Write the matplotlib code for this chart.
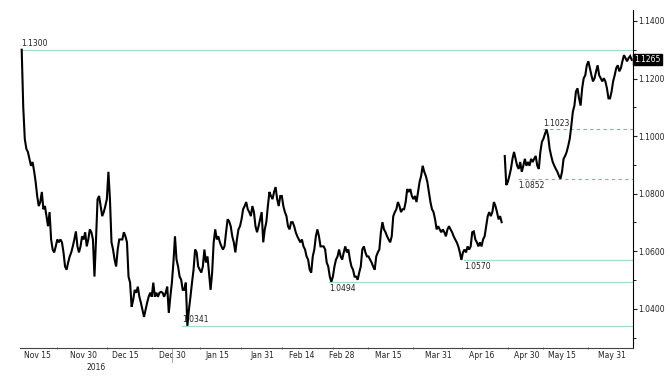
import numpy as np
import matplotlib
matplotlib.use("Agg")
import matplotlib.pyplot as plt
from matplotlib.ticker import MultipleLocator, FormatStrFormatter

# hourly closes (index axis, trading time only)
nov_dec = [1.1300, 1.1100, 1.0990, 1.0956, 1.0945, 1.0921, 1.0897, 1.0910, 1.0879,
           1.0841, 1.0792, 1.0757, 1.0771, 1.0806, 1.0746, 1.0757, 1.0722, 1.0687,
           1.0736, 1.0641, 1.0606, 1.0596, 1.0617, 1.0641, 1.0631, 1.0641, 1.0631,
           1.0596, 1.0547, 1.0536, 1.0561, 1.0582, 1.0596, 1.0617, 1.0641, 1.0669,
           1.0617, 1.0596, 1.0617, 1.0652, 1.0641, 1.0666, 1.0617, 1.0641, 1.0676,
           1.0666, 1.0641, 1.0512, 1.0641, 1.0781, 1.0792, 1.0757, 1.0722, 1.0736,
           1.0757, 1.0781, 1.0876, 1.0781, 1.0631, 1.0606, 1.0571, 1.0547, 1.0606,
           1.0641, 1.0641, 1.0641, 1.0666, 1.0652, 1.0631, 1.0512, 1.0491, 1.0407,
           1.0431, 1.0466, 1.0456, 1.0477, 1.0442, 1.0421, 1.0397, 1.0372, 1.0397,
           1.0421, 1.0442, 1.0456, 1.0442, 1.0491, 1.0442, 1.0456, 1.0442, 1.0456,
           1.0459, 1.0456, 1.0442, 1.0456, 1.0477, 1.0386, 1.0442, 1.0491, 1.0561,
           1.0652, 1.0571, 1.0547, 1.0512, 1.0501, 1.0466, 1.0466, 1.0491, 1.0341]
jan_feb = [1.0397, 1.0442, 1.0491, 1.0536, 1.0606, 1.0596, 1.0547, 1.0536, 1.0526,
           1.0547, 1.0606, 1.0561, 1.0582, 1.0526, 1.0466, 1.0526, 1.0631, 1.0676,
           1.0641, 1.0652, 1.0631, 1.0617, 1.0606, 1.0617, 1.0666, 1.0711, 1.0704,
           1.0687, 1.0652, 1.0631, 1.0596, 1.0641, 1.0676, 1.0687, 1.0711, 1.0746,
           1.0757, 1.0771, 1.0746, 1.0736, 1.0722, 1.0757, 1.0736, 1.0687, 1.0666,
           1.0687, 1.0711, 1.0736, 1.0631, 1.0676, 1.0701, 1.0757, 1.0806, 1.0792,
           1.0781, 1.0806, 1.0823, 1.0781, 1.0757, 1.0792, 1.0792, 1.0757, 1.0736,
           1.0722, 1.0687, 1.0676, 1.0701, 1.0701, 1.0687, 1.0666, 1.0652, 1.0641,
           1.0631, 1.0641, 1.0617, 1.0606, 1.0582, 1.0571, 1.0536, 1.0526, 1.0582,
           1.0606, 1.0652, 1.0676, 1.0652, 1.0617, 1.0617, 1.0617, 1.0606, 1.0561,
           1.0547, 1.0512, 1.0494, 1.0512]
mar_apr = [1.0547, 1.0571, 1.0582, 1.0606, 1.0582, 1.0571, 1.0596, 1.0617, 1.0596,
           1.0606, 1.0571, 1.0547, 1.0536, 1.0512, 1.0512, 1.0501, 1.0526, 1.0547,
           1.0606, 1.0617, 1.0596, 1.0582, 1.0582, 1.0571, 1.0561, 1.0547, 1.0536,
           1.0582, 1.0596, 1.0606, 1.0666, 1.0701, 1.0676, 1.0666, 1.0652, 1.0641,
           1.0631, 1.0652, 1.0722, 1.0736, 1.0746, 1.0771, 1.0757, 1.0736, 1.0746,
           1.0746, 1.0771, 1.0816, 1.0806, 1.0816, 1.0792, 1.0781, 1.0792, 1.0771,
           1.0806, 1.0841, 1.0862, 1.0897, 1.0876, 1.0862, 1.0841, 1.0806, 1.0771,
           1.0746, 1.0736, 1.0711, 1.0676, 1.0687, 1.0676, 1.0666, 1.0676, 1.0666,
           1.0652, 1.0676, 1.0687, 1.0676, 1.0666, 1.0652, 1.0641, 1.0631, 1.0617,
           1.0596, 1.0570, 1.0596, 1.0606, 1.0596, 1.0617, 1.0606, 1.0617, 1.0666,
           1.0669, 1.0641, 1.0631, 1.0617, 1.0631, 1.0617, 1.0641, 1.0652, 1.0687,
           1.0722, 1.0736, 1.0722, 1.0736, 1.0771, 1.0757, 1.0736, 1.0711, 1.0722,
           1.0701]
# weekend gap (French election) before the next block
apr_jun = [1.0931, 1.0830, 1.0841, 1.0862, 1.0886, 1.0921, 1.0945, 1.0921, 1.0897,
           1.0886, 1.0910, 1.0876, 1.0897, 1.0921, 1.0897, 1.0910, 1.0897, 1.0921,
           1.0910, 1.0921, 1.0931, 1.0897, 1.0886, 1.0945, 1.0980, 1.0991, 1.1008,
           1.1023, 1.1001, 1.0956, 1.0931, 1.0910, 1.0897, 1.0886, 1.0876, 1.0862,
           1.0852, 1.0876, 1.0921, 1.0931, 1.0945, 1.0966, 1.0991, 1.1036, 1.1085,
           1.1106, 1.1155, 1.1166, 1.1131, 1.1106, 1.1166, 1.1201, 1.1211, 1.1246,
           1.1260, 1.1236, 1.1211, 1.1190, 1.1201, 1.1225, 1.1246, 1.1211, 1.1201,
           1.1190, 1.1201, 1.1190, 1.1166, 1.1131, 1.1131, 1.1155, 1.1190, 1.1211,
           1.1236, 1.1246, 1.1225, 1.1236, 1.1260, 1.1281, 1.1271, 1.1260, 1.1271,
           1.1278, 1.1265]

prices = np.array(nov_dec + jan_feb + mar_apr + [np.nan] + apr_jun)
last_price = 1.1265

solid_levels = [1.1300, 1.0341, 1.0494, 1.0570]
solid_labels = ["1.1300", "1.0341", "1.0494", "1.0570"]
dashed_levels = [1.1023, 1.0852]
dashed_labels = ["1.1023", "1.0852"]

date_labels = ["Nov 15", "Nov 30", "Dec 15", "Dec 30", "Jan 15", "Jan 31", "Feb 14",
               "Feb 28", "Mar 15", "Mar 31", "Apr 16", "Apr 30", "May 15", "May 31"]
year_label = "2016"

# ---- layout (pixel columns of the reference, axes spans 20..633 px) ----
AX_L, AX_R = 20, 633
first_px, last_px = 21.7, 631.7
label_px = [37, 83, 125, 172, 217, 262, 302, 342, 388, 438, 482, 527, 562, 612]
tick_px = [57, 107, 152, 200, 241, 282, 333, 368, 413, 462, 508, 543, 588]
solid_px = [21.7, 182, 329, 464]
solid_above = [True, True, False, False]
dashed_px = [543, 518]
dashed_above = [True, False]

n = len(prices)
x = np.arange(n)
step = (last_px - first_px) / (n - 1)
xlo = -(first_px - AX_L) / step
xhi = (n - 1) + (AX_R - last_px) / step


def px2x(px):
    return xlo + (px - AX_L) / (AX_R - AX_L) * (xhi - xlo)


def px2f(px):
    return (px - AX_L) / (AX_R - AX_L)


fig = plt.figure(figsize=(6.7, 3.76), dpi=100)
ax = fig.add_axes([AX_L / 670, 28 / 376, (AX_R - AX_L) / 670, (376 - 10 - 28) / 376])

green = "#a3dcc8"
dgreen = "#72b9a2"
txt = "#222222"
fs = 5.5

for lv, lb, p, above in zip(solid_levels, solid_labels, solid_px, solid_above):
    ax.axhline(lv, xmin=px2f(p), xmax=1, color=green, lw=0.9, zorder=1)
    ax.text(px2x(p), lv + (0.0006 if above else -0.0007), lb, fontsize=fs, color=txt,
            ha="left", va="bottom" if above else "top")

for lv, lb, p, above in zip(dashed_levels, dashed_labels, dashed_px, dashed_above):
    ax.axhline(lv, xmin=px2f(p), xmax=1, color=dgreen, lw=0.8, ls=(0, (3, 3)), zorder=1)
    ax.text(px2x(p), lv + (0.0006 if above else -0.0007), lb, fontsize=fs, color=txt,
            ha="left", va="bottom" if above else "top")

ax.plot(x, prices, color="black", lw=1.5, solid_joinstyle="miter", zorder=3)

ax.set_xlim(xlo, xhi)
ax.set_ylim(1.0264, 1.1438)

# y axis on the right
ax.yaxis.tick_right()
ax.yaxis.set_major_locator(MultipleLocator(0.02))
ax.yaxis.set_minor_locator(MultipleLocator(0.01))
ax.yaxis.set_major_formatter(FormatStrFormatter("%.4f"))
ax.tick_params(axis="y", which="major", length=3, width=0.8, pad=1, labelsize=fs,
               colors=txt)
ax.tick_params(axis="y", which="minor", length=2, width=0.6)

# x ticks: small marks between labels, labels without marks
ax.set_xticks([px2x(p) for p in tick_px])
ax.set_xticklabels([])
ax.set_xticks([px2x(p) for p in label_px], minor=True)
ax.set_xticklabels(date_labels, minor=True, fontsize=fs, color=txt)
ax.tick_params(axis="x", which="major", length=2, width=0.6, direction="inout",
               color="#555555")
ax.tick_params(axis="x", which="minor", length=0, pad=2)

ax.text(px2f(96), -0.045, year_label, transform=ax.transAxes, fontsize=fs,
        color=txt, ha="center", va="top")
ax.plot([px2f(172)] * 2, [0, -0.042], transform=ax.transAxes, color="#999999",
        lw=0.6, clip_on=False)

for s in ["top", "left"]:
    ax.spines[s].set_visible(False)
ax.spines["right"].set_linewidth(0.8)
ax.spines["bottom"].set_linewidth(0.8)
ax.spines["bottom"].set_color("#444444")

ax.text(1.002, last_price, f"{last_price:.4f}", transform=ax.get_yaxis_transform(),
        fontsize=fs, color="white", ha="left", va="center", zorder=5,
        bbox=dict(boxstyle="square,pad=0.15", fc="black", ec="black"))

fig.savefig("out.png", dpi=100)
